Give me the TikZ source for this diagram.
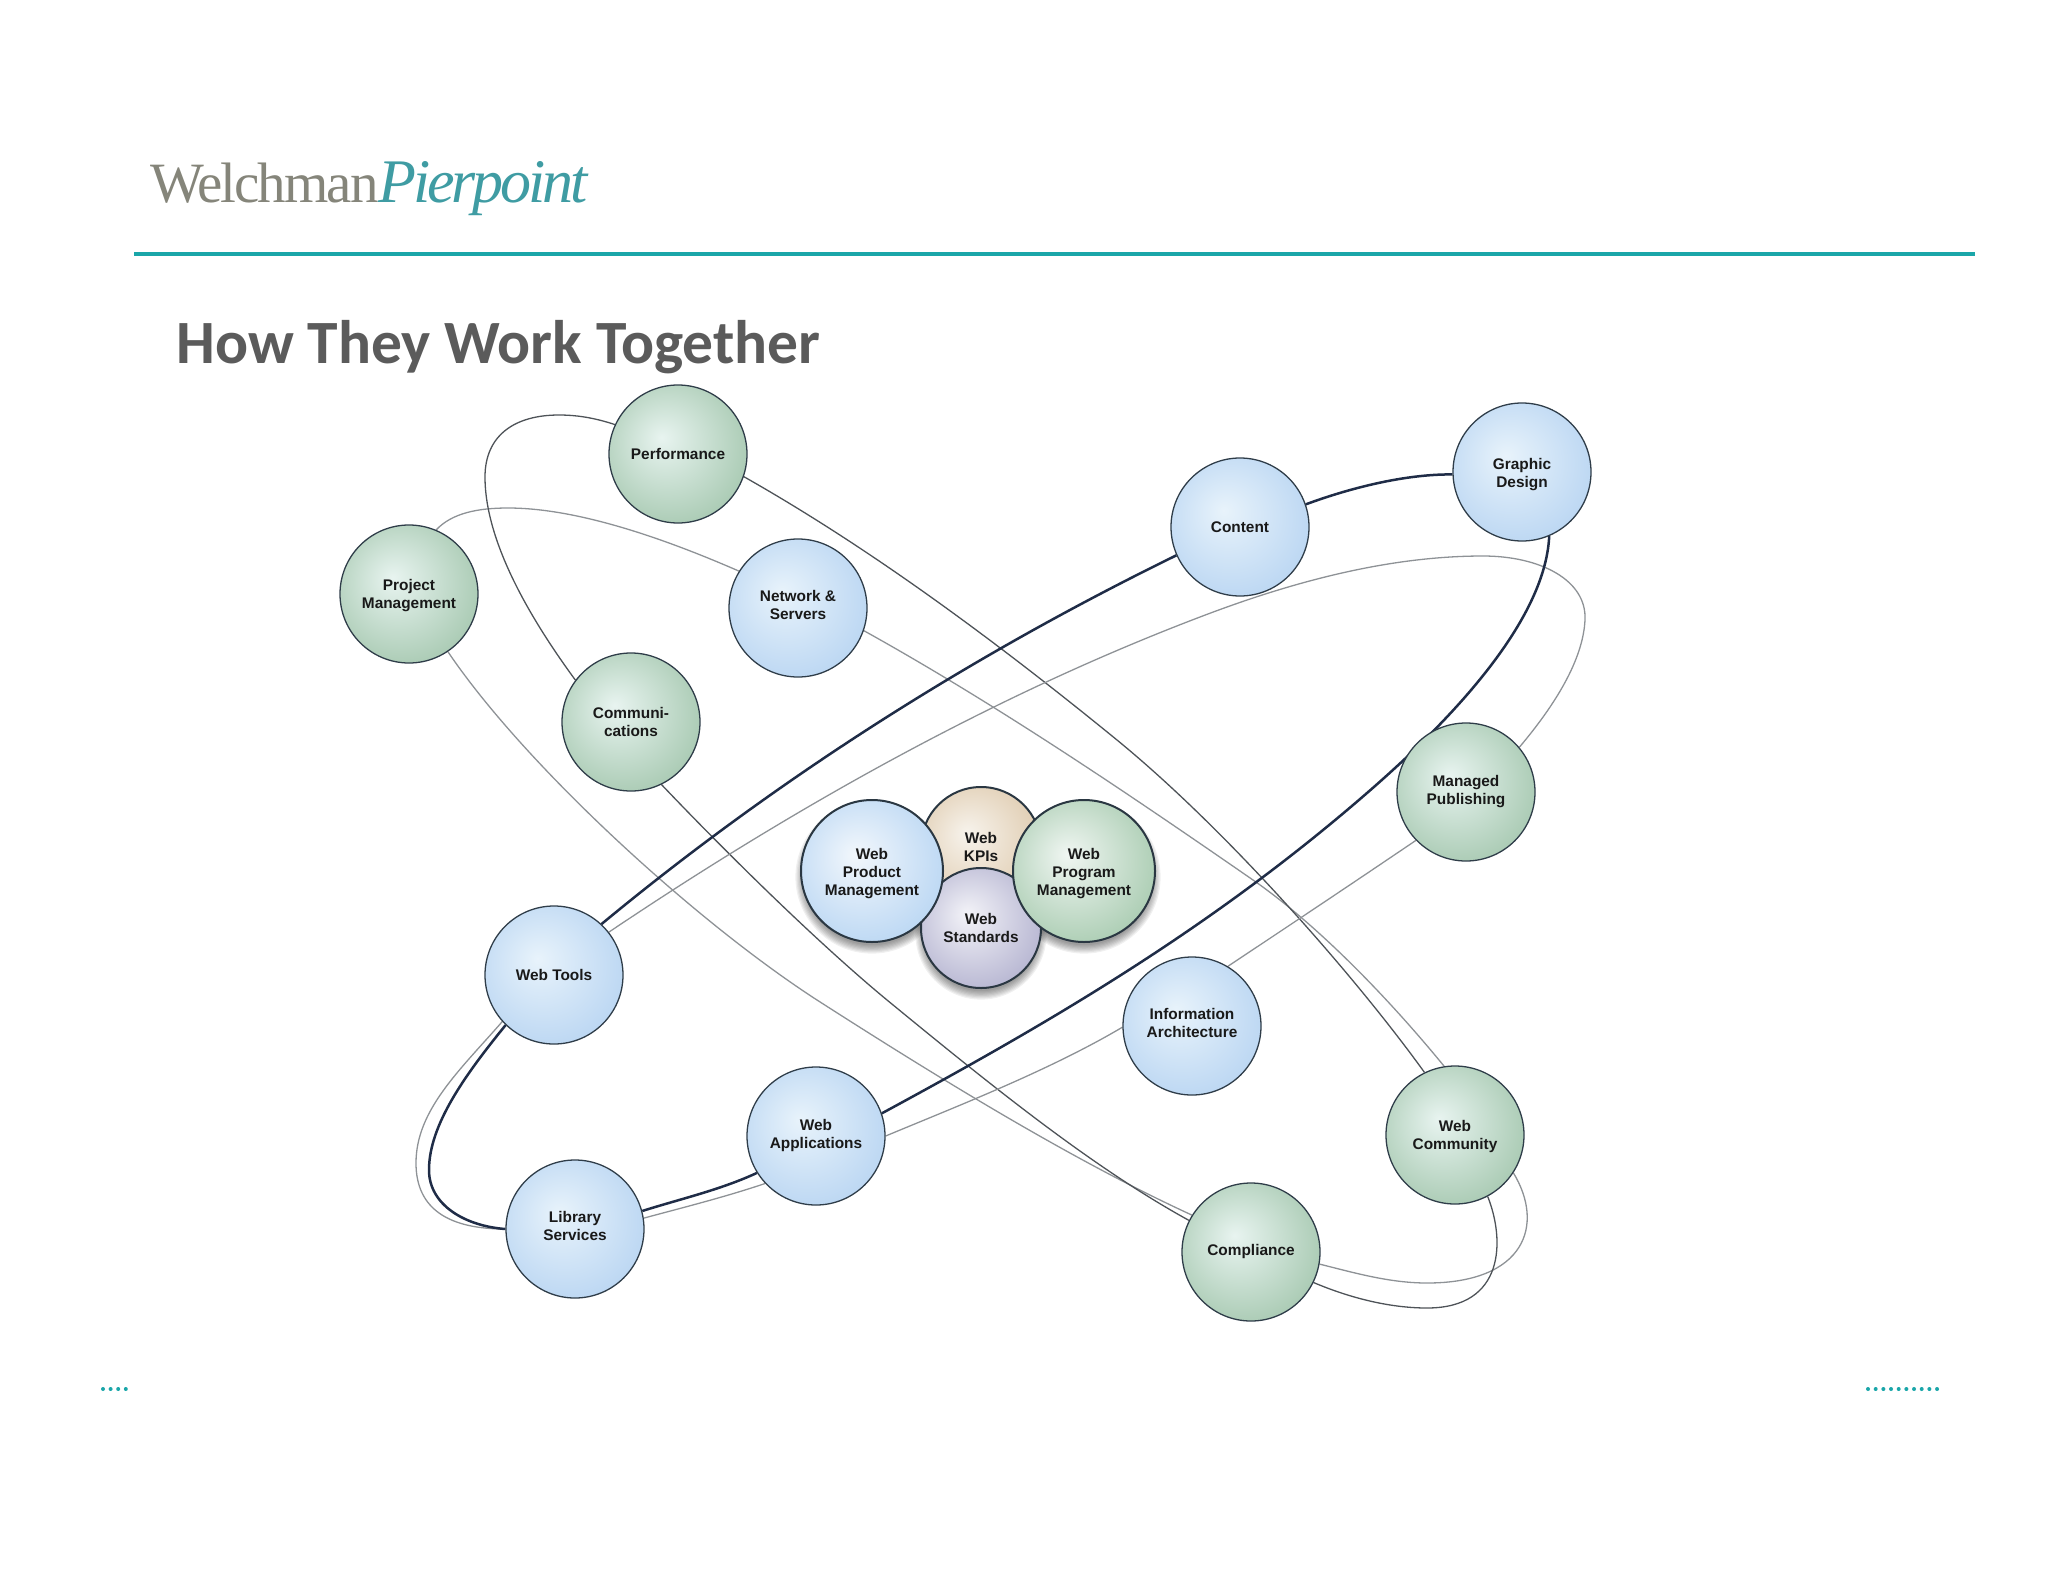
\documentclass[tikz,border=0pt]{standalone}
\usepackage{fontspec}
\setmainfont{Liberation Sans}
\newfontfamily\logofont[LetterSpace=-3.5]{Liberation Serif}
\newfontfamily\logofontb[LetterSpace=-5]{Liberation Serif}
\newfontfamily\titlefont{Carlito}
\definecolor{teal1}{HTML}{1AA6A9}
\definecolor{logogray}{HTML}{85857A}
\definecolor{logoteal}{HTML}{3F9CA3}
\definecolor{titlegray}{HTML}{5B5B5B}
\definecolor{rimc}{HTML}{2F3D49}
\definecolor{darkline}{HTML}{1F2C47}
\definecolor{thinline}{HTML}{4E5358}
\definecolor{grayline}{HTML}{8E9296}
\definecolor{bA}{HTML}{E8F3FB}\definecolor{bB}{HTML}{B9D5F2}
\definecolor{gA}{HTML}{E8F4F0}\definecolor{gB}{HTML}{A6C8B0}
\definecolor{hbA}{HTML}{F2F7FC}\definecolor{hbB}{HTML}{B9D6F3}
\definecolor{hgA}{HTML}{F0F6F2}\definecolor{hgB}{HTML}{A8CBB0}
\definecolor{tA}{HTML}{F7F3EC}\definecolor{tB}{HTML}{DEC9AC}
\definecolor{pA}{HTML}{F3F3F8}\definecolor{pB}{HTML}{B4B3D0}
\pgfdeclareradialshading{bluesh}{\pgfpoint{-6bp}{6bp}}{color(0bp)=(bA);color(31bp)=(bB);color(50bp)=(bB)}
\pgfdeclareradialshading{greensh}{\pgfpoint{-6bp}{6bp}}{color(0bp)=(gA);color(31bp)=(gB);color(50bp)=(gB)}
\pgfdeclareradialshading{hubblue}{\pgfpoint{-6bp}{6bp}}{color(0bp)=(hbA);color(31bp)=(hbB);color(50bp)=(hbB)}
\pgfdeclareradialshading{hubgreen}{\pgfpoint{-6bp}{6bp}}{color(0bp)=(hgA);color(31bp)=(hgB);color(50bp)=(hgB)}
\pgfdeclareradialshading{tansh}{\pgfpoint{-6bp}{6bp}}{color(0bp)=(tA);color(31bp)=(tB);color(50bp)=(tB)}
\pgfdeclareradialshading{purplesh}{\pgfpoint{-6bp}{6bp}}{color(0bp)=(pA);color(31bp)=(pB);color(50bp)=(pB)}
\pgfdeclarelayer{bg}
\pgfsetlayers{bg,main}
\newcommand{\dnA}{\rule{0pt}{14pt}}
\newcommand{\dnB}{\rule{0pt}{16pt}}
\newcommand{\upA}{\rule[-6pt]{0pt}{6pt}}
\tikzset{
  orb/.style={circle,minimum size=138pt,inner sep=0pt,draw=rimc,line width=1.3pt,align=center,
    font=\fontsize{15.4}{18}\selectfont\bfseries,text=black!90},
  blueorb/.style={orb,shading=bluesh},
  greenorb/.style={orb,shading=greensh},
  hub/.style={orb,line width=2pt,draw=rimc!90!black},
  thick1/.style={darkline,line width=2.5pt},
  thin1/.style={thinline,line width=1.3pt},
  gray1/.style={grayline,line width=1.3pt},
  tdot/.style={circle,fill=teal1,inner sep=0pt,minimum size=4pt},
}
\begin{document}
\begin{tikzpicture}[x=1pt,y=-1pt]
\useasboundingbox (0,0) rectangle (2048,1582);
% header
\node[anchor=base west,inner sep=0pt,text=logogray,font=\logofont\fontsize{57}{60}\selectfont] (logoa) at (150,202) {Welchman};
\node[anchor=base west,inner sep=0pt,text=logoteal,font=\logofontb\itshape\fontsize{62}{60}\selectfont] (logob) at (378,202) {Pierpoint};
\coordinate (ruleL) at (134,254); \coordinate (ruleR) at (1975,254);
\draw[teal1,line width=4pt] (ruleL) -- (ruleR);
\node[anchor=base west,inner sep=0pt,text=titlegray,font=\titlefont\bfseries\fontsize{61.5}{64}\selectfont] (title) at (176,363) {How They Work Together};
% orbit nodes
\node[greenorb] (perf) at (678,454) {Performance};
\node[greenorb] (proj) at (409,594) {\dnA Project\\Management};
\node[blueorb] (net) at (798,608) {Network \&\\Servers\upA};
\node[greenorb] (comm) at (631,722) {Communi-\\cations};
\node[blueorb] (cont) at (1240,527) {Content};
\node[blueorb] (graph) at (1522,472) {\dnB Graphic\\Design};
\node[greenorb] (man) at (1466,792) {Managed\\Publishing};
\node[blueorb] (tools) at (554,975) {Web Tools};
\node[blueorb] (info) at (1192,1026) {Information\\Architecture\upA};
\node[greenorb] (wcomm) at (1455,1135) {\dnA Web\\Community};
\node[blueorb] (wapps) at (816,1136) {Web\\Applications};
\node[blueorb] (lib) at (575,1229) {Library\\Services\upA};
\node[greenorb] (compl) at (1251,1252) {Compliance};
\begin{pgfonlayer}{bg}
% gray ellipse through Project Management
\draw[gray1] (proj.67) .. controls (452,513) and (478,508) .. (508,508) .. controls (580,508) and (670,541) .. (net.148);
\draw[gray1] (net.-19) .. controls (994,703) and (1123,790) .. (1253,880) .. controls (1318,925) and (1390,1000) .. (wcomm.99);
\draw[gray1] (wcomm.-33) .. controls (1545,1225) and (1525,1283) .. (1427,1283) .. controls (1390,1283) and (1355,1273) .. (compl.-10);
\draw[gray1] (compl.148) .. controls (1072,1160) and (937,1077) .. (817,1000) .. controls (692,919) and (523,763) .. (proj.-56);
% thin ellipse through Performance
\draw[thin1] (perf.-19) .. controls (868,547) and (992,638) .. (1117,740) .. controls (1227,830) and (1355,976) .. (wcomm.116);
\draw[thin1] (wcomm.-62) .. controls (1505,1240) and (1505,1308) .. (1427,1308) .. controls (1390,1308) and (1350,1298) .. (compl.-26);
\draw[thin1] (compl.153) .. controls (1090,1166) and (987,1082) .. (887,1000) .. controls (812,938) and (718,844) .. (comm.-64);
\draw[thin1] (comm.143) .. controls (535,625) and (485,545) .. (485,477) .. controls (485,435) and (515,415) .. (559,415) .. controls (580,415) and (598,419) .. (perf.155);
% light ellipse
\draw[gray1] (tools.38) .. controls (807,799) and (1003,692) .. (1200,617) .. controls (1294,581) and (1390,556) .. (1483,556) .. controls (1540,556) and (1587,580) .. (1585,620) .. controls (1583,660) and (1555,705) .. (man.40);
\draw[gray1] (man.224) .. controls (1350,885) and (1290,925) .. (info.59);
\draw[gray1] (info.181) .. controls (1050,1070) and (960,1105) .. (wapps.0);
\draw[gray1] (wapps.223) .. controls (725,1197) and (685,1207) .. (lib.9);
\draw[gray1] (lib.180) .. controls (450,1229) and (416,1210) .. (416,1163) .. controls (416,1110) and (460,1070) .. (tools.222);
% dark ellipse
\draw[thick1] (cont.19) .. controls (1350,488) and (1405,474) .. (graph.182);
\draw[thick1] (graph.-67) .. controls (1545,625) and (1442,728) .. (1367,793) .. controls (1207,932) and (1043,1026) .. (wapps.19);
\draw[thick1] (wapps.212) .. controls (720,1190) and (680,1199) .. (lib.15);
\draw[thick1] (lib.180) .. controls (465,1226) and (429,1205) .. (429,1170) .. controls (429,1125) and (465,1075) .. (tools.226);
\draw[thick1] (tools.47) .. controls (790,768) and (987,648) .. (cont.204);
\end{pgfonlayer}
% hub shadows
\foreach \cx/\cy/\rr in {872/871/71,1084/871/71,981/928/60}{
  \foreach \k in {1,...,8}{
    \fill[black,opacity=0.06] (\cx,\cy+6) circle ({\rr-4+\k*1.2});
  }
}
% hub
\node[hub,shading=tansh,minimum size=120pt] (kpi) at (981,847) {Web\\KPIs};
\node[hub,shading=purplesh,minimum size=120pt] (std) at (981,928) {Web\\Standards};
\node[hub,shading=hubblue,minimum size=142pt] (wpm) at (872,871) {\dnB Web\\Product\\Management};
\node[hub,shading=hubgreen,minimum size=142pt] (wprog) at (1084,871) {\dnB Web\\Program\\Management};
% dots
\foreach \i in {0,...,3}{\node[tdot] (dl\i) at (103+7.6*\i,1389) {};}
\foreach \i in {0,...,9}{\node[tdot] (dr\i) at (1868+7.67*\i,1389) {};}
\end{tikzpicture}
\end{document}
